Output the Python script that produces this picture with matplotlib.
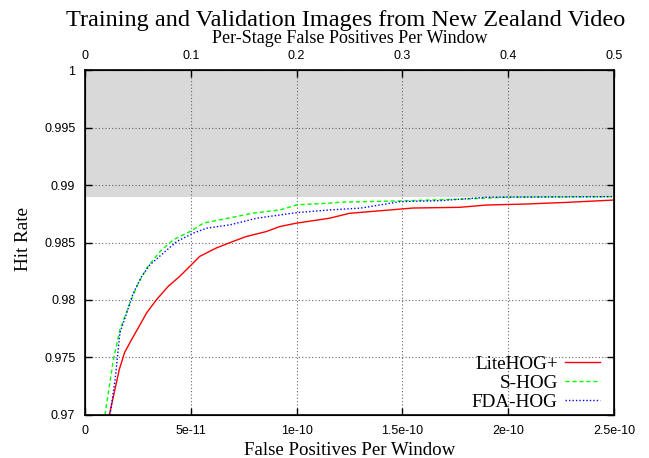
import matplotlib.pyplot as plt
import numpy as np

serif = ['Liberation Serif', 'DejaVu Serif']
sans = ['Liberation Sans', 'DejaVu Sans']

# x values in units of 1e-11 false positives per window
lite_x = [1.15, 1.62, 1.87, 2.2, 2.6, 2.92, 3.38, 3.93, 4.47, 4.95, 5.42, 6.2, 6.99,
          7.62, 8.56, 9.19, 9.98, 11.55, 12.5, 14.4, 15.5, 17.7, 18.98, 20.87, 22.76, 24.95]
lite_y = [0.9700, 0.97395, 0.97543, 0.97655, 0.97785, 0.97890, 0.98003, 0.98118,
          0.98205, 0.98292, 0.98379, 0.98452, 0.98509, 0.98552, 0.98595, 0.98638,
          0.98668, 0.98711, 0.98754, 0.98783, 0.98800, 0.98806, 0.98826, 0.98835,
          0.98849, 0.98869]

shog_x = [0.94, 1.34, 1.65, 2.13, 2.52, 2.92, 3.55, 4.18, 4.97, 5.6, 6.39, 7.96, 9.23,
          10.02, 11.6, 12.07, 14.91, 18.07, 19.96, 24.95]
shog_y = [0.9700, 0.97480, 0.97741, 0.97977, 0.98148, 0.98278, 0.98423, 0.98525,
          0.98596, 0.98669, 0.98698, 0.98756, 0.98784, 0.98828, 0.98843, 0.98851,
          0.98862, 0.98879, 0.98894, 0.98899]

fda_x = [1.18, 1.42, 1.65, 1.97, 2.28, 2.68, 3.07, 3.7, 4.34, 5.12, 5.76, 6.86, 8.13,
         10.02, 11.6, 13.02, 14.91, 16.8, 19.02, 24.95]
fda_y = [0.9700, 0.97305, 0.97715, 0.97887, 0.98060, 0.98205, 0.98306, 0.98408,
         0.98509, 0.98582, 0.98625, 0.98654, 0.98712, 0.98760, 0.98784, 0.98799,
         0.98856, 0.98864, 0.98894, 0.98899]

xticks = [0, 5e-11, 1e-10, 1.5e-10, 2e-10, 2.5e-10]
xticklabels = ['0', '5e-11', '1e-10', '1.5e-10', '2e-10', '2.5e-10']
yticks = [0.97, 0.975, 0.98, 0.985, 0.99, 0.995, 1.0]
yticklabels = ['0.97', '0.975', '0.98', '0.985', '0.99', '0.995', '1']
top_ticks = [0, 0.1, 0.2, 0.3, 0.4, 0.5]
top_labels = ['0', '0.1', '0.2', '0.3', '0.4', '0.5']
target_rate = 0.989

# setup figure
fig = plt.figure(figsize=(6.49, 4.58), dpi=100)
ax = fig.add_axes([0.131, 0.094, 0.815, 0.753])

ax.axhspan(target_rate, 1.0, color='#d9d9d9', zorder=0, lw=0)

scale = 1e-11
ax.plot(np.array(lite_x) * scale, lite_y, color='#ff0000', lw=1.0, label='LiteHOG+', zorder=3)
ax.plot(np.array(shog_x) * scale, shog_y, color='#00ff00', lw=1.0, ls=(0, (3, 2)), label='S-HOG', zorder=3)
ax.plot(np.array(fda_x) * scale, fda_y, color='#0000ff', lw=1.0, ls=(0, (1, 1.5)), label='FDA-HOG', zorder=3)

ax.set_xlim(0, 2.5e-10)
ax.set_ylim(0.97, 1.0)
ax.set_xticks(xticks)
ax.set_xticklabels(xticklabels, fontfamily=sans, fontsize=9)
ax.set_yticks(yticks)
ax.set_yticklabels(yticklabels, fontfamily=sans, fontsize=9)
ax.tick_params(direction='in', length=5, width=1, right=True, pad=7)
ax.grid(True, color='#666666', ls=(0, (1, 2)), lw=0.8, zorder=1)
ax.set_axisbelow(False)
for sp in ax.spines.values():
    sp.set_linewidth(1.2)
    sp.set_zorder(4)

top = ax.twiny()
top.set_xlim(0, 0.5)
top.set_xticks(top_ticks)
top.set_xticklabels(top_labels, fontfamily=sans, fontsize=9)
top.tick_params(direction='in', length=5, width=1, pad=6)

# titles and axis labels placed by baseline
fig.text(0.533, 0.943, 'Training and Validation Images from New Zealand Video',
         fontfamily=serif, fontsize=17.5, ha='center', va='baseline')
fig.text(0.5385, 0.907, 'Per-Stage False Positives Per Window',
         fontfamily=serif, fontsize=13, ha='center', va='baseline')
fig.text(0.5385, 0.0066, 'False Positives Per Window',
         fontfamily=serif, fontsize=13.6, ha='center', va='baseline')
ax.set_ylabel('Hit Rate', fontfamily=serif, fontsize=13.8)
ax.yaxis.set_label_coords(-0.1, 0.51)

leg = ax.legend(loc='lower right', bbox_to_anchor=(0.9735, 0.012), frameon=False,
                markerfirst=False, prop={'family': serif, 'size': 13.8},
                handlelength=1.8, labelspacing=0.08, borderaxespad=0, borderpad=0,
                handletextpad=0.4)
for t in leg.get_texts():
    t.set_ha('right')

fig.savefig('out.png', dpi=100)
